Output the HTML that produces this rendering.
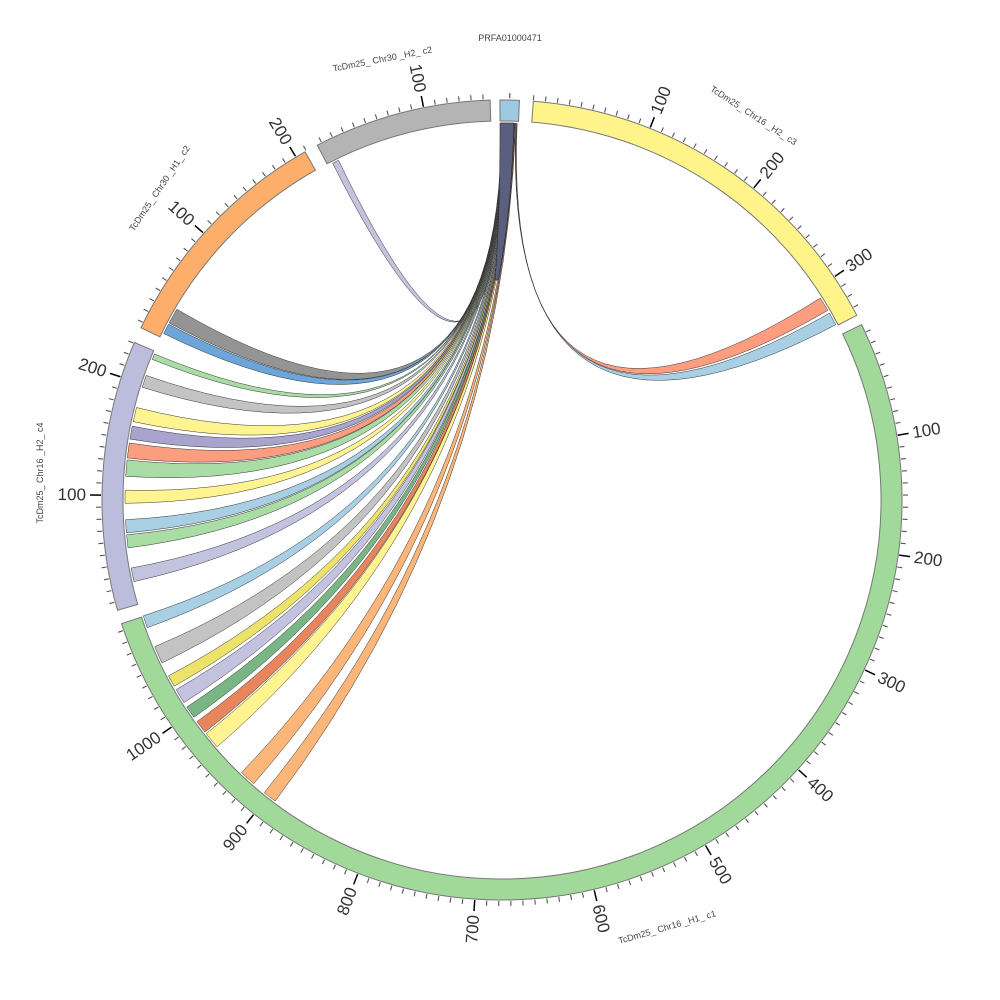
<!DOCTYPE html>
<html><head><meta charset="utf-8"><style>html,body{margin:0;padding:0;background:#fff}svg{display:block}</style></head>
<body>
<svg id="s" width="1000" height="1000" viewBox="0 0 1000 1000" xmlns="http://www.w3.org/2000/svg" font-family="Liberation Sans, sans-serif">
<text x="510" y="41" font-size="9" fill="#444" text-anchor="middle">PRFA01000471</text>
<text transform="translate(383,62) rotate(-11)" font-size="9" fill="#444" text-anchor="middle">TcDm25_ Chr30 _H2_ c2</text>
<text transform="translate(752,118) rotate(33)" font-size="9" fill="#444" text-anchor="middle">TcDm25_ Chr16 _H2_ c3</text>
<text transform="translate(668,930) rotate(-16)" font-size="9" fill="#444" text-anchor="middle">TcDm25_ Chr16 _H1_ c1</text>
<text transform="translate(43,473) rotate(-90)" font-size="9" fill="#444" text-anchor="middle">TcDm25_ Chr16 _H2_ c4</text>
<text transform="translate(162,190) rotate(-56)" font-size="9" fill="#444" text-anchor="middle">TcDm25_ Chr30 _H1_ c2</text>
<g id="g"></g>
</svg>
<script>
const cx=502,cy=500,R0=379,R1=400,RR=377;
function pt(a,r){a=a*Math.PI/180;return [cx+r*Math.sin(a),cy-r*Math.cos(a)];}
function f(p){return p[0].toFixed(2)+","+p[1].toFixed(2);}
let out="";
const segs=[
 [-0.3,2.5,"#9ecae1",null],
 [4.5,62.5,"#fff48a",4.5],
 [64,252,"#a1d99b",63.5],
 [254,293.2,"#bcbddc",253.5],
 [295.5,330.5,"#fdae6b",294.6],
 [332.5,358.3,"#b4b4b4",331.5]
];
const rib=[
 [333.3,334.3,"#bcbddc"],
 [298.0,300.4,"#888888"],
 [296.2,297.8,"#5b9bd5"],
 [291.9,292.8,"#a1d99b"],
 [287.4,289.3,"#bdbdbd"],
 [282.0,284.2,"#fff384"],
 [279.3,281.3,"#9e9ac8"],
 [276.4,278.7,"#fc9272"],
 [273.6,276.1,"#a1d99b"],
 [269.5,271.5,"#fff384"],
 [265.0,267.0,"#9ecae1"],
 [262.7,264.7,"#a1d99b"],
 [257.5,259.6,"#bcbddc"],
 [250.2,252.1,"#9ecae1"],
 [244.4,247.1,"#bdbdbd"],
 [240.4,242.2,"#ece05a"],
 [237.5,239.8,"#bcbddc"],
 [234.8,236.7,"#6aad78"],
 [232.0,234.0,"#e6784a"],
 [229.1,231.7,"#fff384"],
 [221.2,223.7,"#fdae6b"],
 [217.0,219.1,"#fdae6b"],
 [60.3,62.3,"#9ecae1"],
 [57.6,59.8,"#fc9272"]
];
const S0=-0.2,S1=2.3;const step=(S1-S0)/rib.length;
let paths="";
rib.forEach((r,i)=>{
 const s1=S0+i*step,s2=s1+step;
 const A=pt(s1,RR),B=pt(s2,RR),T1=pt(r[0],RR),T2=pt(r[1],RR);
 const d=`M${f(A)} A${RR},${RR} 0 0 1 ${f(B)} Q${cx},${cy} ${f(T1)} A${RR},${RR} 0 0 1 ${f(T2)} Q${cx},${cy} ${f(A)}Z`;
 paths+=`<path d="${d}" fill="${r[2]}" stroke="#333" stroke-width="0.5" fill-opacity="0.9"/>`;
});
out+=paths;
out+=`<path d="M500,123 L514,123 C512,180 508,230 498,280 L495,280 C499,230 500,180 500,123Z" fill="#5a5f80" stroke="#222" stroke-width="0.5"/>`;
segs.forEach(s=>{
 const a=pt(s[0],R0),b=pt(s[1],R0),c=pt(s[1],R1),d=pt(s[0],R1);
 const lg=(s[1]-s[0])>180?1:0;
 out+=`<path d="M${f(a)} A${R0},${R0} 0 ${lg} 1 ${f(b)} L${f(c)} A${R1},${R1} 0 ${lg} 0 ${f(d)}Z" fill="${s[2]}" stroke="#777" stroke-width="1"/>`;
 if(s[3]===null){const p=pt(1.1,R1+2),q=pt(1.1,R1+7);out+=`<line x1="${p[0]}" y1="${p[1]}" x2="${q[0]}" y2="${q[1]}" stroke="#555" stroke-width="1.2"/>`;return;}
 for(let v=0;;v+=10){
  const a=s[3]+0.172*v; if(a>s[1]+0.3)break; if(a<s[0]-0.3)continue;
  const maj=v%100==0&&v>0;
  const p=pt(a,R1+1),q=pt(a,R1+(maj?12:6));
  out+=`<line x1="${p[0].toFixed(2)}" y1="${p[1].toFixed(2)}" x2="${q[0].toFixed(2)}" y2="${q[1].toFixed(2)}" stroke="${maj?'#000':'#555'}" stroke-width="${maj?1.5:1.1}"/>`;
  if(maj){
   const L=pt(a,R1+16);
   let am=((a%360)+360)%360;
   if(am<180) out+=`<text transform="translate(${L[0].toFixed(1)},${L[1].toFixed(1)}) rotate(${(am-90).toFixed(1)})" font-size="17" fill="#333" dominant-baseline="central">${v}</text>`;
   else out+=`<text transform="translate(${L[0].toFixed(1)},${L[1].toFixed(1)}) rotate(${(am+90).toFixed(1)})" font-size="17" fill="#333" text-anchor="end" dominant-baseline="central">${v}</text>`;
  }
 }
});
document.getElementById("g").innerHTML=out;
</script>
</body></html>
